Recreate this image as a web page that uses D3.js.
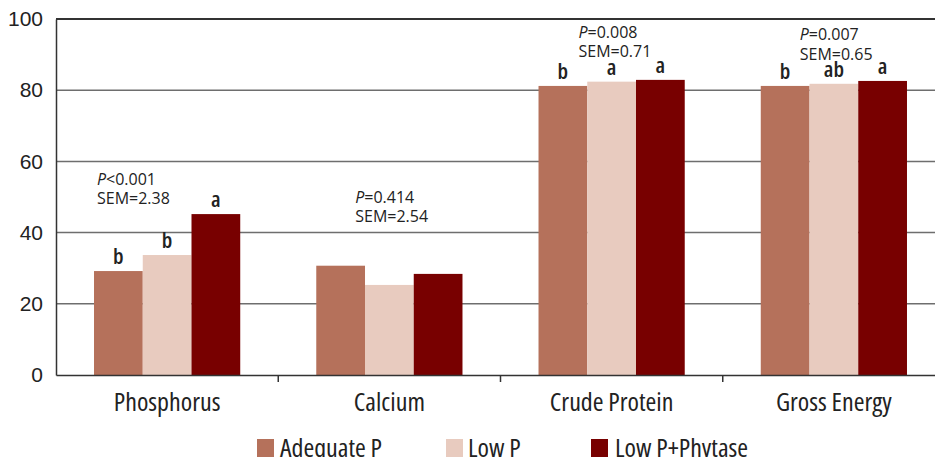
<!DOCTYPE html>
<html>
<head>
<meta charset="utf-8">
<script src="https://cdn.jsdelivr.net/npm/d3@7"></script>
<style>
  body { margin: 0; background: #fff; }
  svg { display: block; }
  .narrow { font-family: "Open Sans", "DejaVu Sans", sans-serif; font-stretch: 75%; }
  .note { font-family: "Open Sans", "DejaVu Sans", sans-serif; }
</style>
</head>
<body>
<svg width="935" height="457"></svg>
<script>
const categories = ['Phosphorus', 'Calcium', 'Crude Protein', 'Gross Energy'];
const series = ['Adequate P', 'Low P', 'Low P+Phytase'];
const adequateP = [29.2, 30.7, 81.2, 81.2];
const lowP = [33.7, 25.3, 82.4, 81.8];
const lowPPhytase = [45.2, 28.4, 82.9, 82.6];
const letters = [['b', 'b', 'a'], [], ['b', 'a', 'a'], ['b', 'ab', 'a']];
const pValues = ['<0.001', '=0.414', '=0.008', '=0.007'];
const sems = ['2.38', '2.54', '0.71', '0.65'];
const yTicks = [0, 20, 40, 60, 80, 100];

const colors = ['#b5715b', '#e8cbbf', '#780000'];
// where the P / SEM notes sit: x offset from band start, y in data units
const notePos = [[41, 53.5], [77, 48.4], [78, 94.8], [77, 94.0]];

const svg = d3.select('svg');
const mLeft = 56, mRight = 945, mTop = 19, mBottom = 375;

const x0 = d3.scaleBand().domain(categories).range([mLeft, mRight]);
const x1 = d3.scaleBand().domain(series).range([0, x0.bandwidth()])
  .paddingInner(0).paddingOuter(0.78);
const y = d3.scaleLinear().domain([0, 100]).range([mBottom, mTop]);

// gridlines
svg.append('g')
  .selectAll('line')
  .data(yTicks.filter(t => t > 0 && t < 100))
  .enter().append('line')
  .attr('x1', mLeft).attr('x2', 935)
  .attr('y1', d => y(d)).attr('y2', d => y(d))
  .attr('stroke', '#6e6e6e').attr('stroke-width', 1.5);

// top border
svg.append('line')
  .attr('x1', mLeft).attr('x2', 935)
  .attr('y1', y(100)).attr('y2', y(100))
  .attr('stroke', '#333').attr('stroke-width', 2);

const table = categories.map((c, i) => ({
  cat: c, i, vals: [adequateP[i], lowP[i], lowPPhytase[i]]
}));

const groups = svg.append('g').selectAll('g')
  .data(table)
  .enter().append('g')
  .attr('transform', d => `translate(${x0(d.cat)},0)`);

groups.selectAll('rect')
  .data(d => d.vals.map((v, k) => ({ v, k, s: series[k] })))
  .enter().append('rect')
  .attr('x', d => x1(d.s))
  .attr('width', x1.bandwidth())
  .attr('y', d => y(d.v))
  .attr('height', d => y(0) - y(d.v))
  .attr('fill', d => colors[d.k]);

// significance letters
groups.selectAll('text.letter')
  .data(d => letters[d.i].map((l, k) => ({ l, v: d.vals[k], s: series[k] })))
  .enter().append('text')
  .attr('class', 'letter narrow')
  .attr('x', d => x1(d.s) + x1.bandwidth() / 2)
  .attr('y', d => y(d.v) - 7)
  .attr('text-anchor', 'middle')
  .attr('font-size', 22)
  .attr('font-weight', 600)
  .attr('fill', '#222')
  .text(d => d.l);

// P and SEM notes
const notes = groups.append('text')
  .attr('class', 'note')
  .attr('font-size', 16)
  .attr('fill', '#222');
notes.append('tspan')
  .attr('x', d => notePos[d.i][0])
  .attr('y', d => y(notePos[d.i][1]))
  .attr('font-style', 'italic')
  .text('P');
notes.append('tspan')
  .text(d => pValues[d.i]);
notes.append('tspan')
  .attr('x', d => notePos[d.i][0])
  .attr('dy', 19.5)
  .text(d => 'SEM=' + sems[d.i]);

// y axis
const yAxis = svg.append('g')
  .attr('transform', `translate(${mLeft},0)`)
  .call(d3.axisLeft(y).tickValues(yTicks).tickSize(0).tickPadding(13));
yAxis.select('.domain').attr('stroke', '#333').attr('stroke-width', 1.5);
yAxis.selectAll('text')
  .attr('font-family', '"Liberation Sans", Arial, sans-serif')
  .attr('font-size', 21)
  .attr('fill', '#222');

// x axis
const xAxis = svg.append('g')
  .attr('transform', `translate(0,${mBottom})`)
  .call(d3.axisBottom(x0).tickSize(0).tickPadding(18));
xAxis.select('.domain').attr('stroke', '#333').attr('stroke-width', 1.5);
xAxis.selectAll('text')
  .attr('class', 'narrow')
  .attr('font-size', 26)
  .attr('fill', '#222');
xAxis.selectAll('line.sep')
  .data(categories)
  .enter().append('line')
  .attr('class', 'sep')
  .attr('x1', d => x0(d) + x0.bandwidth()).attr('x2', d => x0(d) + x0.bandwidth())
  .attr('y1', 0).attr('y2', 7)
  .attr('stroke', '#333').attr('stroke-width', 1.5);

// legend
const legendX = [257, 446, 591];
const legend = svg.append('g').selectAll('g')
  .data(series)
  .enter().append('g')
  .attr('transform', (d, k) => `translate(${legendX[k]},439)`);
legend.append('rect')
  .attr('width', 17).attr('height', 18)
  .attr('fill', (d, k) => colors[k]);
legend.append('text')
  .attr('class', 'narrow')
  .attr('x', (d, k) => [23, 22, 24][k])
  .attr('y', 18)
  .attr('font-size', 26)
  .attr('fill', '#222')
  .text(d => d);
</script>
</body>
</html>
